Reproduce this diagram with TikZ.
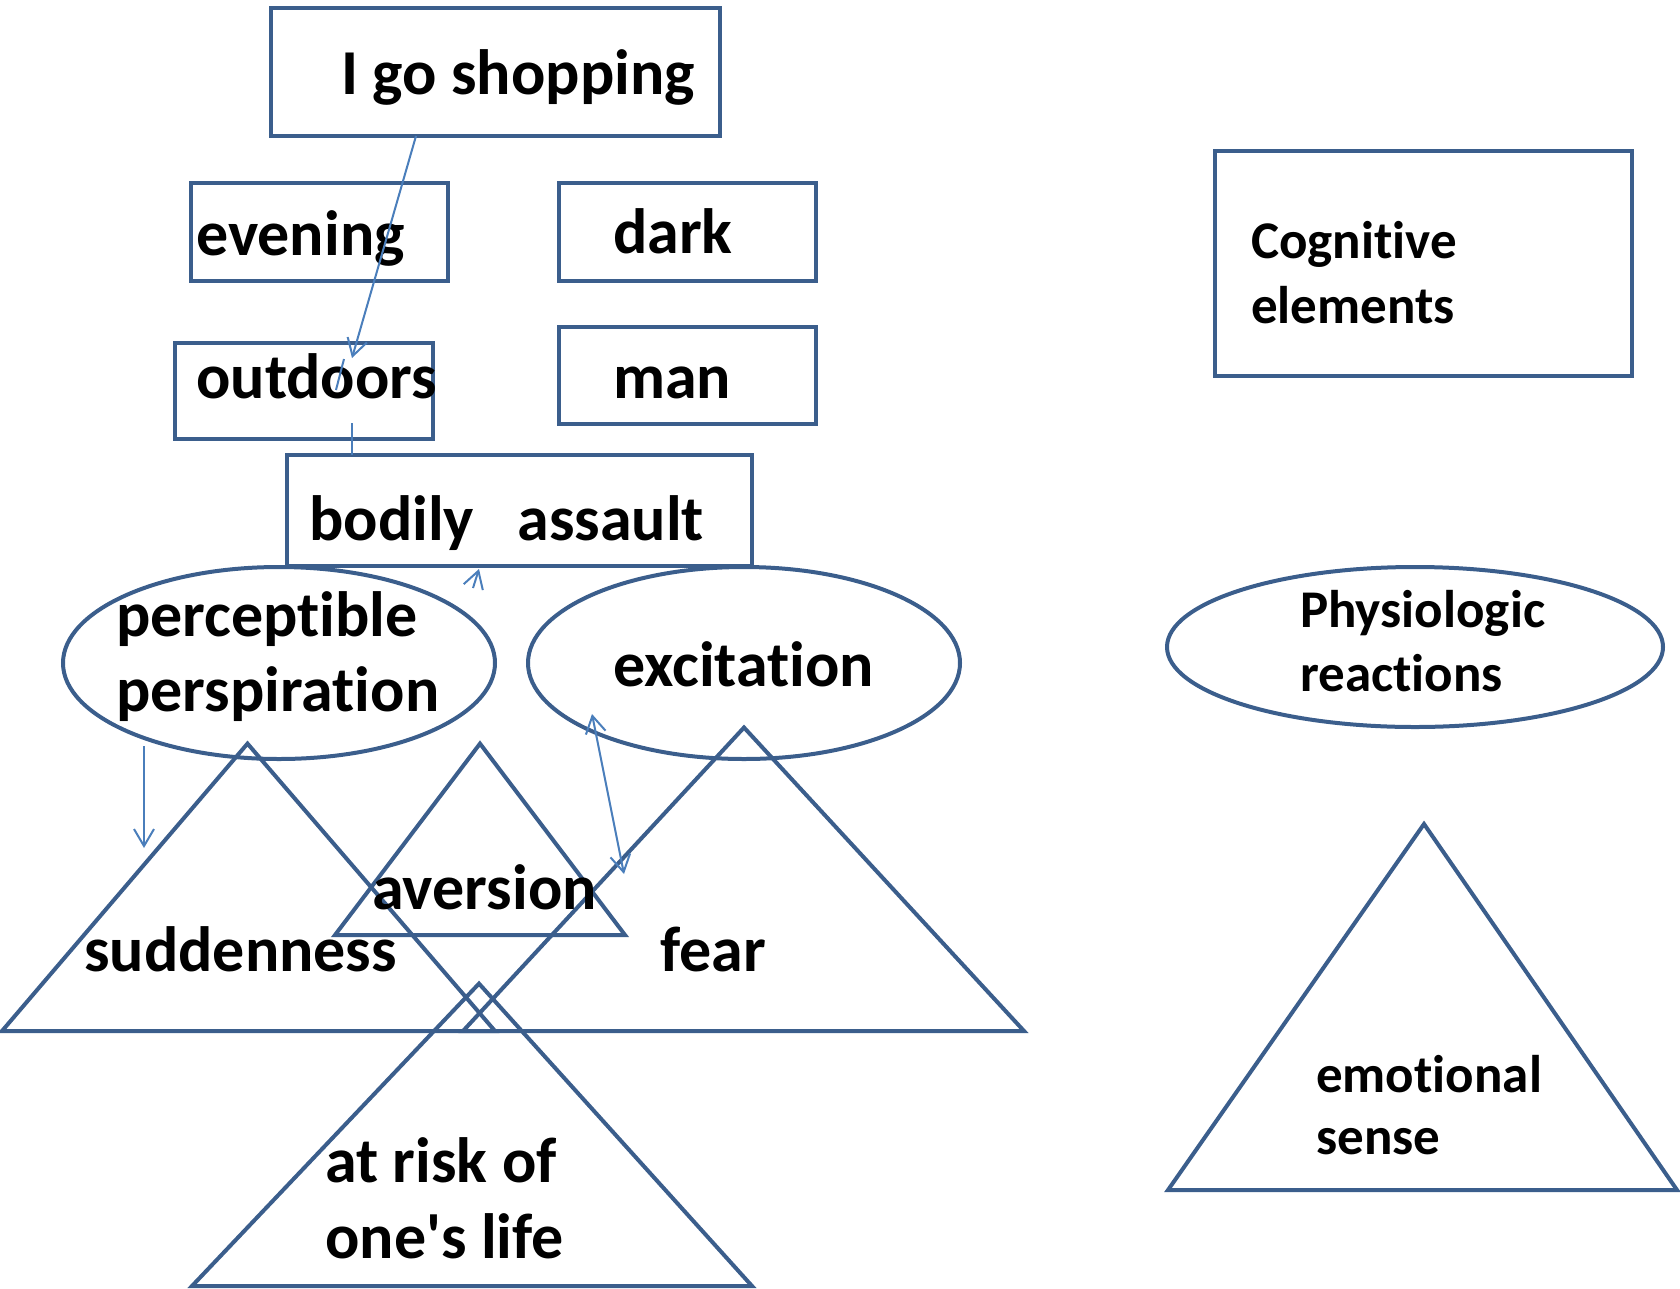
\documentclass[tikz,border=0pt]{standalone}
\usepackage{fontspec}
\setmainfont{Carlito}[Ligatures={NoCommon}]
\usetikzlibrary{shapes.geometric,arrows.meta}
\definecolor{edgeblue}{HTML}{3B5E8C}
\definecolor{linkblue}{HTML}{4A7EBB}
\begin{document}
\begin{tikzpicture}[x=1pt,y=-1pt,
  shapeline/.style={draw=edgeblue,line width=4pt,line join=miter},
  boxnode/.style={shapeline,rectangle,inner sep=0pt,outer sep=0pt},
  ovalnode/.style={shapeline,ellipse,inner sep=0pt,outer sep=0pt},
  bigtext/.style={anchor=base west,inner sep=0pt,font=\fontsize{64}{68}\selectfont\bfseries},
  smalltext/.style={anchor=base west,inner sep=0pt,font=\fontsize{53}{57}\selectfont\bfseries},
  link/.style={draw=linkblue,line width=2pt},
  tip/.style={-{Straight Barb[length=17pt,width=20pt,line width=2pt]}},
  twotip/.style={{Straight Barb[length=17pt,width=20pt,line width=2pt]}-{Straight Barb[length=17pt,width=20pt,line width=2pt]}}]
\useasboundingbox (0,0) rectangle (1680,1288);

% rectangles: cognitive elements
\node[boxnode,minimum width=449pt,minimum height=128pt] (shop) at (495.5,71.75) {};
\node[boxnode,minimum width=257pt,minimum height=98pt] (evening) at (319.5,232) {};
\node[boxnode,minimum width=257pt,minimum height=98pt] (dark) at (687.5,232) {};
\node[boxnode,minimum width=258pt,minimum height=96pt] (outdoors) at (304,391) {};
\node[boxnode,minimum width=257pt,minimum height=97pt] (man) at (687.5,375.5) {};
\node[boxnode,minimum width=465pt,minimum height=111pt] (assault) at (519.5,510.5) {};
\node[boxnode,minimum width=417pt,minimum height=225pt] (cogkey) at (1423.5,263.5) {};

% ellipses: physiologic reactions
\node[ovalnode,minimum width=432pt,minimum height=192pt] (sweat) at (279,663) {};
\node[ovalnode,minimum width=432pt,minimum height=192pt] (excite) at (744,663) {};
\node[ovalnode,minimum width=496pt,minimum height=160pt] (physkey) at (1415,647) {};

% triangles: emotional sense
\coordinate (sudA) at (247.5,743.6); \coordinate (sudL) at (2,1031); \coordinate (sudR) at (495,1031);
\coordinate (aveA) at (480,743.6); \coordinate (aveL) at (335,935); \coordinate (aveR) at (625,935);
\coordinate (fearA) at (744,727.5); \coordinate (fearL) at (463,1031); \coordinate (fearR) at (1024,1031);
\coordinate (riskA) at (479,983.6); \coordinate (riskL) at (192,1286); \coordinate (riskR) at (752,1286);
\coordinate (emoA) at (1424,824); \coordinate (emoL) at (1168,1190); \coordinate (emoR) at (1677,1190);
\draw[shapeline] (sudA) -- (sudL) -- (sudR) -- cycle;
\draw[shapeline] (aveA) -- (aveL) -- (aveR) -- cycle;
\draw[shapeline] (fearA) -- (fearL) -- (fearR) -- cycle;
\draw[shapeline] (riskA) -- (riskL) -- (riskR) -- cycle;
\draw[shapeline] (emoA) -- (emoL) -- (emoR) -- cycle;

% labels
\node[bigtext] (tshop) at (341,94) {I go shopping};
\node[bigtext] (teven) at (196,255) {evening};
\node[bigtext] (tdark) at (613,253) {dark};
\node[bigtext] (toutd) at (196,398) {outdoors};
\node[bigtext] (tman) at (613,398) {man};
\node[bigtext] (tassa) at (309,540) {bodily\hspace{0.45em} assault};
\node[bigtext] (tperc) at (116,636) {perceptible};
\node[bigtext] (tpers) at (116,711) {perspiration};
\node[bigtext] (texci) at (613,686) {excitation};
\node[bigtext] (taver) at (372,909) {aversion};
\node[bigtext] (tsudd) at (84,971) {suddenness};
\node[bigtext] (tfear) at (660,971) {fear};
\node[bigtext] (trisk) at (325,1182) {at risk of};
\node[bigtext] (tlife) at (325,1258) {one\textquotesingle s life};
\node[smalltext] (tcog1) at (1251,258) {Cognitive};
\node[smalltext] (tcog2) at (1251,323) {elements};
\node[smalltext] (tphy1) at (1300,627) {Physiologic};
\node[smalltext] (tphy2) at (1300,691) {reactions};
\node[smalltext] (temo1) at (1316,1092) {emotional};
\node[smalltext] (temo2) at (1316,1154) {sense};

% connectors
\coordinate (shopOut) at (416,136);
\coordinate (outIn) at (352,358);
\coordinate (outStubA) at (344,359);
\coordinate (outStubB) at (336,390);
\coordinate (outFoot) at (352,423);
\coordinate (assTop) at (352,455);
\coordinate (assTipFrom) at (473,588);
\coordinate (assTip) at (479,569);
\coordinate (sweatFoot) at (144,746);
\coordinate (sweatTip) at (144,848);
\coordinate (excTip) at (592,714);
\coordinate (fearTip) at (624,874);
\draw[link,tip] (shopOut) -- (outIn);
\draw[link] (outStubA) -- (outStubB);
\draw[link] (outFoot) -- (assTop);
\draw[link,tip] (assTipFrom) -- (assTip);
\draw[link,tip] (sweatFoot) -- (sweatTip);
\draw[link,twotip] (excTip) -- (fearTip);
\end{tikzpicture}
\end{document}
